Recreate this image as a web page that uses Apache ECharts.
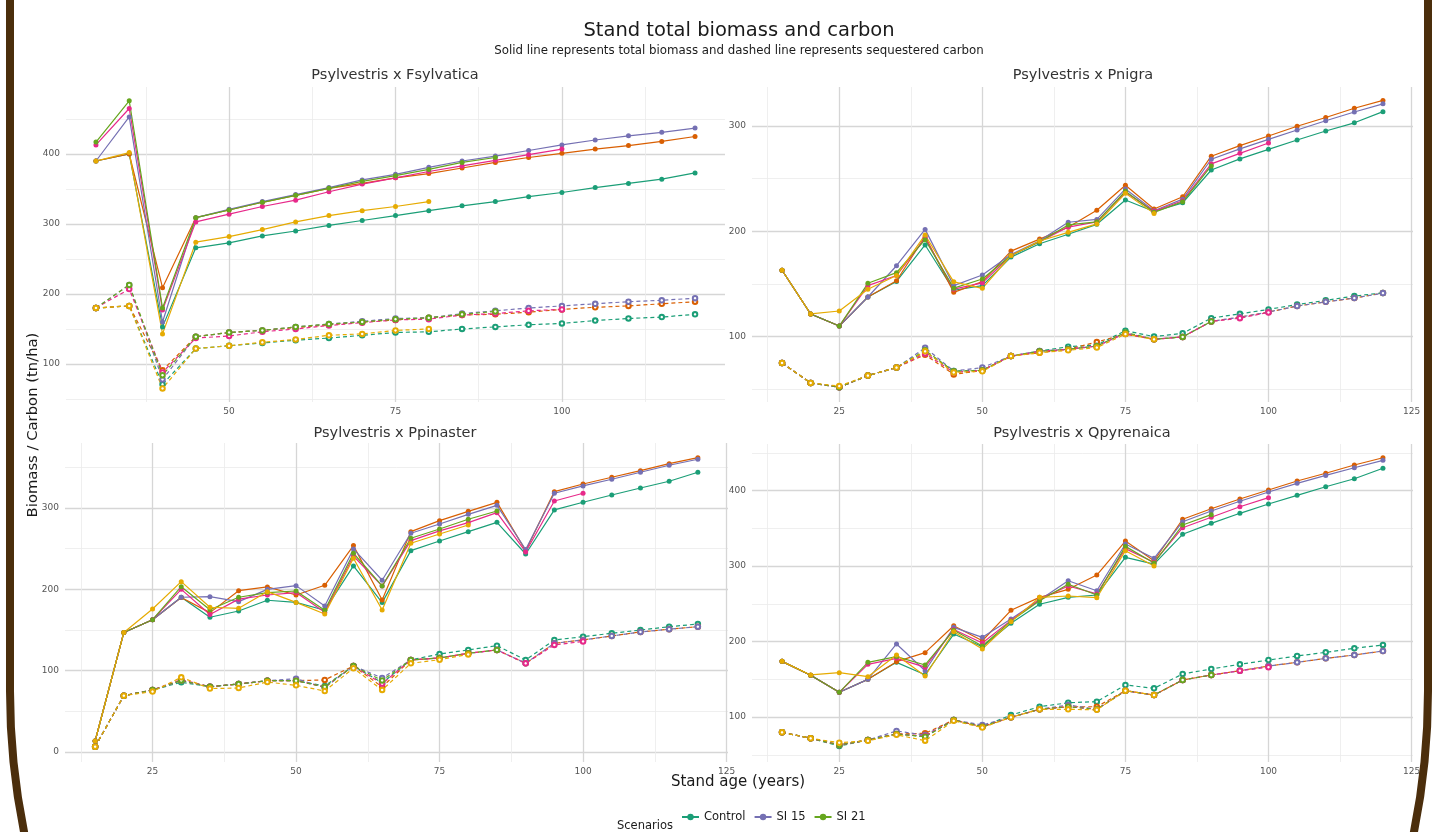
<!DOCTYPE html>
<html>
<head>
<meta charset="utf-8">
<title>Stand total biomass and carbon</title>
<script src="https://cdn.jsdelivr.net/npm/echarts@6/dist/echarts.min.js"></script>
<style>
  html, body { margin: 0; padding: 0; background: #fff; }
  #chart { width: 1444px; height: 832px; }
</style>
</head>
<body>
<div id="chart"></div>
<script>
// scenarios in factor order, Dark2 colours (only the first legend row is visible)
const scenarios = ['Control', 'SI 12', 'SI 15', 'SI 18', 'SI 21', 'SI 24'];
const legendShown = ['Control', 'SI 15', 'SI 21'];
const colors = ['#1b9e77', '#d95f02', '#7570b3', '#e7298a', '#66a61e', '#e6ab02'];

const panelNames = ['Psylvestris x Fsylvatica', 'Psylvestris x Pnigra', 'Psylvestris x Ppinaster', 'Psylvestris x Qpyrenaica'];

const agesFsylvatica = [30, 35, 40, 45, 50, 55, 60, 65, 70, 75, 80, 85, 90, 95, 100, 105, 110, 115, 120];
const agesOther = [15, 20, 25, 30, 35, 40, 45, 50, 55, 60, 65, 70, 75, 80, 85, 90, 95, 100, 105, 110, 115, 120];

// Psylvestris x Fsylvatica
const fsylvaticaBiomass = {
  'Control': [390, 400, 153, 266, 273, 283, 290, 298, 305, 312, 319, 326, 332, 339, 345, 352, 358, 364, 373],
  'SI 12': [390, 400, 209, 309, 320, 331, 341, 351, 358, 366, 372, 380, 388, 395, 401, 407, 412, 418, 425],
  'SI 15': [390, 453, 160, 309, 321, 332, 342, 352, 363, 371, 381, 390, 397, 405, 413, 420, 426, 431, 437],
  'SI 18': [413, 465, 177, 303, 314, 325, 334, 346, 357, 366, 375, 383, 391, 399, 407],
  'SI 21': [417, 476, 180, 309, 320, 331, 341, 351, 361, 369, 378, 388, 395],
  'SI 24': [390, 402, 143, 274, 282, 292, 303, 312, 319, 325, 332]
};
const fsylvaticaCarbon = {
  'Control': [180, 183, 71, 122, 126, 130, 134, 137, 141, 145, 146, 150, 153, 156, 158, 162, 165, 167, 171],
  'SI 12': [180, 183, 91, 139, 145, 148, 152, 156, 160, 163, 166, 170, 171, 174, 178, 181, 183, 186, 189],
  'SI 15': [180, 213, 78, 139, 145, 148, 153, 157, 161, 165, 166, 172, 176, 180, 183, 186, 189, 191, 194],
  'SI 18': [180, 207, 88, 137, 140, 146, 150, 155, 159, 163, 164, 170, 172, 176, 178],
  'SI 21': [180, 213, 84, 139, 145, 148, 153, 157, 160, 164, 166, 171, 175],
  'SI 24': [180, 183, 65, 122, 126, 131, 135, 141, 143, 148, 150]
};

// Psylvestris x Pnigra
const pnigraBiomass = {
  'Control': [163, 121.5, 110, 137.6, 152.4, 187, 144, 148.4, 175.5, 188.2, 197.2, 206.6, 229.7, 218.8, 227, 258.2, 268.7, 277.8, 286.7, 295.2, 303, 313.6],
  'SI 12': [163, 121.5, 110, 137.6, 153, 195, 142, 152.2, 181.2, 192.6, 203.8, 220, 243.7, 221.2, 232.8, 271.3, 281.3, 290.5, 299.7, 308, 316.8, 324.3],
  'SI 15': [163, 121.5, 110, 137.6, 167.3, 201.8, 148.4, 158.5, 178, 191, 208.6, 211.3, 240.2, 219.5, 230.5, 268.4, 278.2, 287.3, 296.2, 305, 313.3, 321],
  'SI 18': [163, 121.5, 110, 148.4, 158, 193.5, 145, 151, 177, 190, 204, 209, 237, 219, 229, 264, 274, 283.8],
  'SI 21': [163, 121.5, 110, 150.6, 160.7, 192, 146, 154.7, 177, 190, 206, 209, 238, 218, 228, 262],
  'SI 24': [163, 121.5, 124.3, 145, 158, 196.5, 152, 145.8, 177, 190.8, 199, 207, 236, 217]
};
const pnigraCarbon = {
  'Control': [75, 56, 52, 63, 70.6, 85.6, 67.3, 68, 81.5, 86.3, 90.4, 92, 105.6, 100, 103.1, 117.5, 121.6, 125.8, 130.5, 134.4, 138.5, 141.5],
  'SI 12': [75, 56, 52, 63, 70.6, 82.8, 64.1, 68, 81.5, 84.7, 88, 94.8, 102.4, 97.4, 99.7, 114.4, 118.5, 123.3, 129, 133, 136.6, 141.3],
  'SI 15': [75, 56, 52, 63, 70.6, 89.4, 67.3, 70.6, 81.5, 86.3, 88, 91, 103.5, 97.4, 99.7, 114.4, 118.5, 123.3, 129, 133, 136.6, 141.3],
  'SI 18': [75, 56, 52, 63, 70.6, 84, 66, 68, 81.5, 86, 88, 91, 103, 97.4, 99.7, 114.4, 117.5, 123],
  'SI 21': [75, 56, 52, 63, 70.6, 87, 67, 68, 81.5, 86, 88, 91, 104, 97.4, 99.7, 114.4],
  'SI 24': [75, 56, 53, 63, 70.6, 86, 66, 67, 81.5, 84.7, 87, 89.6, 102.4, 97.4]
};

// Psylvestris x Ppinaster
const ppinasterBiomass = {
  'Control': [13.5, 147, 162.7, 190.3, 165.7, 173.4, 186.6, 184, 174.3, 228.8, 183.7, 247.6, 259.5, 271, 282.4, 243.5, 297.7, 307.1, 316.1, 324.7, 333, 344],
  'SI 12': [13.5, 147, 162.7, 190, 171.4, 198.4, 203, 193.1, 205, 253.8, 187, 271, 284.5, 296, 307, 247.6, 320.2, 329.6, 337.9, 346, 354.6, 362],
  'SI 15': [13.5, 147, 162.7, 190.3, 191, 184.9, 200, 204.6, 179.6, 249.7, 211.2, 269, 280.4, 292.3, 303.3, 249, 318.2, 327.2, 335.4, 344, 352.6, 360],
  'SI 18': [13.5, 147, 162.7, 200, 169, 188, 193.1, 196, 172, 241, 204, 260, 272, 282, 294.3, 246, 308.7, 318.2],
  'SI 21': [13.5, 147, 162.7, 203.3, 175, 190.3, 196, 198, 174.3, 244.4, 204.2, 262.8, 274.3, 286.2, 296.4],
  'SI 24': [13.5, 147, 175.9, 209.5, 178, 176.7, 197.2, 184, 169.7, 238.2, 174.7, 256.7, 268.1, 279.2]
};
const ppinasterCarbon = {
  'Control': [6.5, 69.3, 76.3, 85.7, 80.3, 83.6, 87.7, 87.7, 81.2, 105.8, 85, 113.2, 120.5, 125.5, 130.8, 113.2, 137.8, 141.8, 146, 150, 154.1, 157.4],
  'SI 12': [6.5, 69.3, 76.3, 87.7, 80.3, 83.6, 87.7, 87.7, 88.6, 105.8, 80, 113.2, 115.6, 121.4, 125.5, 109.1, 133.7, 137.8, 142.7, 147.6, 151, 154.1],
  'SI 15': [6.5, 69.3, 76.3, 87.7, 80.3, 83.6, 87.7, 90.2, 79, 105.8, 91, 113.2, 115.6, 121.4, 125.5, 109.1, 133.7, 137.8, 142.7, 147.6, 151, 154.1],
  'SI 18': [6.5, 69.3, 76.3, 89, 80.3, 83.6, 87.7, 87.7, 80, 105.8, 84, 113.2, 115.6, 121.4, 125.5, 109.1, 131.6, 136],
  'SI 21': [6.5, 69.3, 76.3, 88, 80.3, 83.6, 87.7, 87.7, 80, 105.8, 88, 113.2, 115.6, 121.4, 125.5],
  'SI 24': [6.5, 69.3, 74.3, 91.9, 78, 78.7, 86, 82, 75, 103, 76.3, 109, 113.5, 120]
};

// Psylvestris x Qpyrenaica
const qpyrenaicaBiomass = {
  'Control': [173.7, 155.2, 132.7, 149.9, 172.4, 156, 209.9, 193, 224.1, 249.3, 258.5, 261.6, 311.5, 302.6, 342, 356.5, 369.8, 382.1, 393.6, 405, 415.6, 429.4],
  'SI 12': [173.7, 155.2, 132.7, 149.9, 173.3, 185.2, 220.9, 201, 241.3, 258.5, 269.1, 288, 333.1, 307, 361.9, 375.9, 388.7, 400.7, 412.6, 422.8, 433.8, 443.4],
  'SI 15': [173.7, 155.2, 132.7, 149.9, 196.7, 161.3, 218.8, 205.5, 229.8, 255, 280.5, 267.3, 329.1, 310.2, 358.7, 372.8, 385.7, 398, 409.5, 420, 430.2, 440],
  'SI 18': [173.7, 155.2, 132.7, 169.8, 177.7, 166, 216, 198, 228, 256, 273.5, 263, 323, 305, 350.7, 364.5, 378.5, 390.5],
  'SI 21': [173.7, 155.2, 132.7, 172.4, 180, 168.9, 215, 194, 227, 254, 275.8, 261.6, 326, 304, 354.3, 368],
  'SI 24': [173.7, 155.7, 158.7, 153.4, 182.1, 154.3, 212.9, 190.1, 226, 258.5, 260.3, 258, 320.3, 300]
};
const qpyrenaicaCarbon = {
  'Control': [79.7, 71.8, 61.6, 69.5, 77.5, 73.9, 96, 87.2, 102.6, 113.6, 118.9, 120.3, 142.4, 138, 157, 163.6, 169.8, 175.5, 180.8, 185.7, 191, 195.4],
  'SI 12': [79.7, 71.8, 63, 69.5, 77.5, 78.4, 96, 87.2, 99.6, 110.2, 113.6, 113.6, 134.8, 129.1, 149, 155.6, 161.3, 167.5, 172.4, 177.7, 182.1, 187.4],
  'SI 15': [79.7, 71.8, 63, 69.5, 81.5, 76, 96, 89.4, 99.6, 110.2, 116, 110.2, 134.8, 129.1, 149, 155.6, 161.3, 167.5, 172.4, 177.7, 182.1, 187.4],
  'SI 18': [79.7, 71.8, 63, 69.5, 77.5, 75, 96, 87.2, 99.6, 110.2, 113.6, 110.2, 134.8, 129.1, 149, 155.6, 161.3, 166],
  'SI 21': [79.7, 71.8, 63, 69.5, 77.5, 74, 96, 87.2, 99.6, 110.2, 113.6, 110.2, 134.8, 129.1, 149, 155.6],
  'SI 24': [79.7, 71.8, 66, 68.5, 76.5, 68.6, 95, 86, 99.6, 110.2, 110.2, 109.5, 134.8, 129.1]
};

// axis breaks per panel (free scales, like facet_wrap(scales = "free"))
const xMajor = [[50, 75, 100], [25, 50, 75, 100, 125], [25, 50, 75, 100, 125], [25, 50, 75, 100, 125]];
const xMinor = [[37.5, 62.5, 87.5, 112.5], [12.5, 37.5, 62.5, 87.5, 112.5], [12.5, 37.5, 62.5, 87.5, 112.5], [12.5, 37.5, 62.5, 87.5, 112.5]];
const yMajor = [[100, 200, 300, 400], [100, 200, 300], [0, 100, 200, 300], [100, 200, 300, 400]];
const yMinor = [[50, 150, 250, 350, 450], [50, 150, 250], [50, 150, 250, 350], [50, 150, 250, 350, 450]];
const xLimits = [[25.5, 124.5], [9.75, 125.25], [9.75, 125.25], [9.75, 125.25]];
const yLimits = [[45.7, 495.7], [37.9, 337], [-12.3, 380], [40.4, 461.6]];

const panels = [
  { ages: agesFsylvatica, biomass: fsylvaticaBiomass, carbon: fsylvaticaCarbon },
  { ages: agesOther, biomass: pnigraBiomass, carbon: pnigraCarbon },
  { ages: agesOther, biomass: ppinasterBiomass, carbon: ppinasterCarbon },
  { ages: agesOther, biomass: qpyrenaicaBiomass, carbon: qpyrenaicaCarbon }
];

const font = 'DejaVu Sans';
const grids = [
  { left: 66, top: 87, width: 659, height: 315 },
  { left: 752, top: 87, width: 661, height: 315 },
  { left: 65, top: 443, width: 663, height: 319 },
  { left: 752, top: 444, width: 661, height: 318 }
];
const titlePos = [[395, 75], [1083, 75], [395, 433], [1082, 433]];

const xAxes = [];
const yAxes = [];
// major axes first (indexes 0-3), then minor grid-line axes (4-7)
for (let i = 0; i < 4; i++) {
  xAxes.push({
    type: 'value', gridIndex: i, position: 'bottom',
    min: xLimits[i][0], max: xLimits[i][1],
    axisLine: { show: false },
    axisTick: { show: false, customValues: xMajor[i] },
    axisLabel: { customValues: xMajor[i], fontSize: 9, color: '#555', margin: 5, fontFamily: font },
    splitLine: { show: true, lineStyle: { color: '#d6d6d6', width: 1.3 } }
  });
  yAxes.push({
    type: 'value', gridIndex: i, position: 'left',
    min: yLimits[i][0], max: yLimits[i][1],
    axisLine: { show: false },
    axisTick: { show: false, customValues: yMajor[i] },
    axisLabel: { customValues: yMajor[i], fontSize: 9, color: '#555', margin: 6, fontFamily: font },
    splitLine: { show: true, lineStyle: { color: '#d6d6d6', width: 1.3 } }
  });
}
for (let i = 0; i < 4; i++) {
  xAxes.push({
    type: 'value', gridIndex: i, position: 'bottom',
    min: xLimits[i][0], max: xLimits[i][1],
    axisLine: { show: false },
    axisTick: { show: false, customValues: xMinor[i] },
    axisLabel: { show: false },
    splitLine: { show: true, lineStyle: { color: '#ebebeb', width: 0.8 } }
  });
  yAxes.push({
    type: 'value', gridIndex: i, position: 'left',
    min: yLimits[i][0], max: yLimits[i][1],
    axisLine: { show: false },
    axisTick: { show: false, customValues: yMinor[i] },
    axisLabel: { show: false },
    splitLine: { show: true, lineStyle: { color: '#ebebeb', width: 0.8 } }
  });
}

function makeLine(name, k, i, ages, values, dashed) {
  return {
    name: name,
    type: 'line',
    xAxisIndex: i,
    yAxisIndex: i,
    data: values.map((v, j) => [ages[j], v]),
    symbol: dashed ? 'emptyCircle' : 'circle',
    symbolSize: dashed ? 4.5 : 5,
    showAllSymbol: true,
    itemStyle: { color: colors[k], borderWidth: 1 },
    lineStyle: { width: 1.2, type: dashed ? [4, 3] : 'solid' },
    emphasis: { disabled: true },
    z: 3
  };
}

const series = [];
panels.forEach((p, i) => {
  scenarios.forEach((s, k) => series.push(makeLine(s, k, i, p.ages, p.biomass[s], false)));
  scenarios.forEach((s, k) => series.push(makeLine(s, k, i, p.ages, p.carbon[s], true)));
});

const texts = [
  { type: 'text', x: 739, y: 31, style: { text: 'Stand total biomass and carbon', font: '19.5px "DejaVu Sans"', fill: '#1a1a1a', textAlign: 'center', textVerticalAlign: 'middle' } },
  { type: 'text', x: 739, y: 51, style: { text: 'Solid line represents total biomass and dashed line represents sequestered carbon', font: '11.8px "DejaVu Sans"', fill: '#1a1a1a', textAlign: 'center', textVerticalAlign: 'middle' } },
  { type: 'text', x: 738, y: 782, style: { text: 'Stand age (years)', font: '15px "DejaVu Sans"', fill: '#1a1a1a', textAlign: 'center', textVerticalAlign: 'middle' } },
  { type: 'text', x: 33, y: 425, rotation: Math.PI / 2, style: { text: 'Biomass / Carbon (tn/ha)', font: '14.8px "DejaVu Sans"', fill: '#1a1a1a', textAlign: 'center', textVerticalAlign: 'middle' } },
  { type: 'text', x: 617, y: 826, style: { text: 'Scenarios', font: '11.5px "DejaVu Sans"', fill: '#1a1a1a', textAlign: 'left', textVerticalAlign: 'middle' } }
];
panelNames.forEach((t, i) => {
  texts.push({ type: 'text', x: titlePos[i][0], y: titlePos[i][1], style: { text: t, font: '14.5px "DejaVu Sans"', fill: '#333', textAlign: 'center', textVerticalAlign: 'middle' } });
});
// brown rounded frame around the figure
texts.push({
  type: 'rect', silent: true, z: 10,
  shape: { x: 10, y: -1000, width: 1418, height: 2400, r: 720 },
  style: { fill: 'none', stroke: '#4b2e0c', lineWidth: 8 }
});

const chart = echarts.init(document.getElementById('chart'));
chart.setOption({
  animation: false,
  backgroundColor: '#fff',
  textStyle: { fontFamily: font },
  grid: grids,
  xAxis: xAxes,
  yAxis: yAxes,
  legend: {
    data: legendShown,
    left: 676, top: 806,
    itemWidth: 17, itemHeight: 8, itemGap: 8,
    textStyle: { fontSize: 11.5, color: '#1a1a1a', fontFamily: font }
  },
  graphic: texts,
  series: series
});
</script>
</body>
</html>
